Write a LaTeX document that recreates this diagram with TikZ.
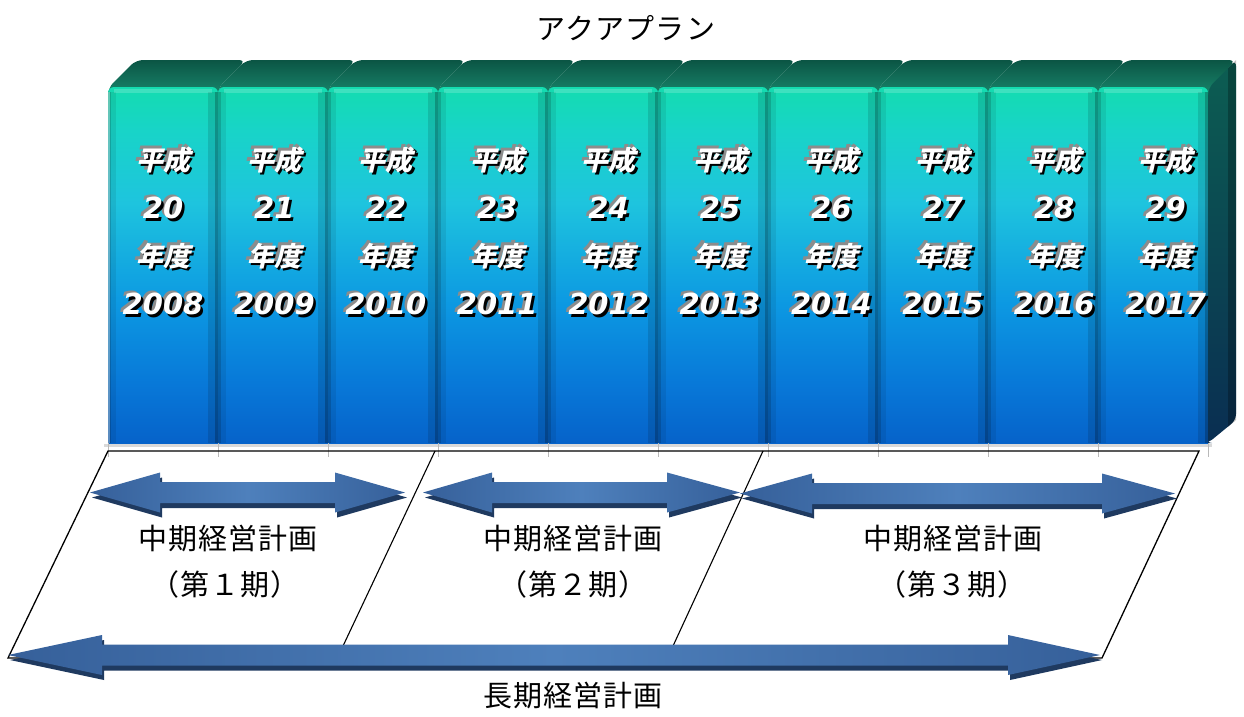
\documentclass[tikz,border=0pt]{standalone}
\usepackage{fontspec}
\newfontfamily\jpf[LetterSpace=4]{Noto Sans CJK JP}
\newfontfamily\jps[FakeSlant=0.22]{Noto Sans CJK JP}
\newfontfamily\numf{DejaVu Sans}
\definecolor{bt}{HTML}{14DCB0}
\definecolor{b1}{HTML}{18D4C8}
\definecolor{b2}{HTML}{1EC4DE}
\definecolor{b3}{HTML}{0C98E2}
\definecolor{b4}{HTML}{0878D8}
\definecolor{bb}{HTML}{0560C8}
\definecolor{tf1}{HTML}{1A8A70}
\definecolor{tf2}{HTML}{0B5544}
\definecolor{sd1}{HTML}{0C5E52}
\definecolor{sd2}{HTML}{0A2E52}
\definecolor{ar1}{HTML}{36609A}
\definecolor{ar2}{HTML}{4E80BC}
\definecolor{arsh}{HTML}{1F3A60}
\definecolor{shg}{HTML}{8C8C8C}
\pgfdeclareverticalshading{barshade}{100bp}{color(0bp)=(bb); color(25bp)=(bb); color(34bp)=(b4); color(45bp)=(b3); color(59bp)=(b2); color(69bp)=(b1); color(75bp)=(bt); color(100bp)=(bt)}
\newcommand\arrowfill[7]{\path[#7] (#1,#5) -- (#2,#5-#6) -- (#2,#5-10.5) -- (#3,#5-10.5) -- (#3,#5-#6) -- (#4,#5) -- (#3,#5+#6) -- (#3,#5+10.5) -- (#2,#5+10.5) -- (#2,#5+#6) -- cycle;}
\newcommand\blockarrow[6]{%
  \begin{scope}[shift={(2,5)}]\arrowfill{#1}{#2}{#3}{#4}{#5}{#6}{fill=arsh}\end{scope}
  \arrowfill{#1}{#2}{#3}{#4}{#5}{#6}{left color=ar1,right color=ar1,middle color=ar2}}
\newcommand\stxt[5]{%
  \node[#4, text=shg] (#1g) at (#2-2.5,#3-2.5) {#5};
  \node[#4, text=black] (#1k) at (#2+2.5,#3+2.5) {#5};
  \node[#4, text=white] (#1) at (#2,#3) {#5};}
\begin{document}
\begin{tikzpicture}[x=1pt,y=-1pt,
  lbl/.style={font=\jpf\fontsize{29}{34}\selectfont, inner sep=0pt},
  kj/.style={font=\jps\bfseries\fontsize{27}{31}\selectfont, inner sep=0pt},
  nm/.style={font=\numf\bfseries\itshape\fontsize{29}{33}\selectfont, inner sep=0pt}]
\useasboundingbox (0,0) rectangle (1244,716);
\fill[white] (0,0) rectangle (1244,716);
% side face of last bar
\shade[top color=sd1, bottom color=sd2, rounded corners=6] (1206,96) -- (1206,88) -- (1236,60) -- (1236,420) -- (1208,443) -- (1206,443) -- cycle;
\fill[black, opacity=0.25] (1228,68) -- (1236,60) -- (1236,420) -- (1228,427) -- cycle;
% bars
\foreach \i in {0,...,9}{
  \pgfmathsetmacro\xa{108+110*\i}
  \pgfmathsetmacro\xb{\xa+110}
  \shade[top color=tf2, bottom color=tf1, rounded corners=7] (\xa,98) -- (\xa,88) -- (\xa+28,60) -- (\xb+28,60) -- (\xb,88) -- (\xb,98) -- cycle;
  \begin{scope}
    \clip (\xa,80) rectangle (\xb,443);
    \shade[shading=barshade, rounded corners=6] (\xa,87) rectangle (\xb,450);
  \end{scope}
  \fill[black, opacity=0.32] (\xb-3,92) rectangle (\xb,443);
  \fill[black, opacity=0.12] (\xb-10,92) rectangle (\xb-3,443);
  \fill[black, opacity=0.22] (\xa,92) rectangle (\xa+3,443);
  \fill[black, opacity=0.08] (\xa+3,92) rectangle (\xa+8,443);
  \fill[white, opacity=0.18] (\xa+6,89) rectangle (\xb-6,93);
}
\fill[white, opacity=0.35] (108,92) rectangle (110,443);
% floor
\draw[gray!30, line width=3] (104,445) -- (1212,445);
\foreach \i in {0,...,10}{
  \draw[gray!55, line width=0.8] (108+110*\i,443) -- (108+110*\i,457);
}
% bar texts
\foreach \i in {0,...,9}{
  \pgfmathsetmacro\xc{163+111.4*\i}
  \pgfmathtruncatemacro\hh{20+\i}
  \pgfmathtruncatemacro\yr{2008+\i}
  \stxt{h\i}{\xc}{160}{kj}{平成}
  \stxt{n\i}{\xc}{208}{nm}{\hh}
  \stxt{d\i}{\xc}{256}{kj}{年度}
  \stxt{y\i}{\xc}{304}{nm}{\yr}
}
% parallelogram frame
\coordinate (pTL) at (108,451);
\coordinate (pTR) at (1199,451);
\coordinate (pBR) at (1102,658);
\coordinate (pBL) at (8,658);
\coordinate (d1t) at (435,451);
\coordinate (d1b) at (343,646);
\coordinate (d2t) at (763,451);
\coordinate (d2b) at (673,646);
\draw[line width=1.3] (pTL) -- (pTR) -- (pBR) -- (pBL) -- cycle;
\draw[line width=1.1] (d1t) -- (d1b);
\draw[line width=1.1] (d2t) -- (d2b);
% arrows
\blockarrow{90}{160}{335}{405}{492.5}{20}
\blockarrow{423}{492}{667}{740}{492.5}{20}
\blockarrow{740}{812}{1102}{1175}{493.5}{20}
\blockarrow{8}{102}{1008}{1100}{655}{20}
% labels
\node[lbl] (title) at (626,28) {アクアプラン};
\node[lbl] (m1a) at (228,538) {中期経営計画};
\node[lbl] (m1b) at (225,584) {（第１期）};
\node[lbl] (m2a) at (573,538) {中期経営計画};
\node[lbl] (m2b) at (573,584) {（第２期）};
\node[lbl] (m3a) at (953,538) {中期経営計画};
\node[lbl] (m3b) at (952,584) {（第３期）};
\node[lbl] (long) at (573,695) {長期経営計画};
\end{tikzpicture}
\end{document}
